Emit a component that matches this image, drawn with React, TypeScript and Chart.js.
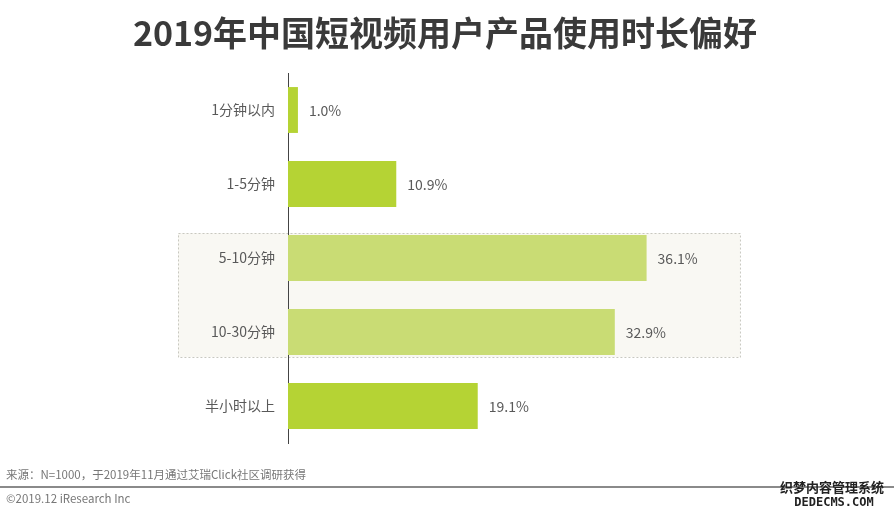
import React, { useEffect, useRef } from "react";
import { Chart, registerables } from "chart.js";

Chart.register(...registerables);

const TITLE = "2019年中国短视频用户产品使用时长偏好";
const categories = ["1分钟以内", "1-5分钟", "5-10分钟", "10-30分钟", "半小时以上"];
const values = [1.0, 10.9, 36.1, 32.9, 19.1];
const highlighted = [false, false, true, true, false];
const SOURCE = "来源：N=1000，于2019年11月通过艾瑞Click社区调研获得";
const COPYRIGHT = "©2019.12 iResearch Inc";

const FONT = '"Noto Sans CJK SC", "Noto Sans", sans-serif';

export default function App() {
  const ref = useRef<HTMLCanvasElement | null>(null);

  useEffect(() => {
    document.body.style.margin = "0";
    const canvas = ref.current;
    if (!canvas) return;

    const deco = {
      id: "deco",
      beforeDraw(chart: any) {
        const { ctx, scales } = chart;
        const y = scales.y;
        const x = scales.x;
        if (!x || !y) return;
        const top = y.getPixelForValue(2) - 25;
        const bottom = y.getPixelForValue(3) + 25;
        const left = 178;
        const right = x.getPixelForValue(45.5);
        ctx.save();
        ctx.fillStyle = "#f9f8f3";
        ctx.fillRect(left, top, right - left, bottom - top);
        ctx.setLineDash([2, 2]);
        ctx.strokeStyle = "#c8c8c0";
        ctx.lineWidth = 1;
        ctx.strokeRect(left + 0.5, top + 0.5, right - left, bottom - top);
        ctx.restore();
      },
      afterDatasetsDraw(chart: any) {
        const { ctx } = chart;
        const meta = chart.getDatasetMeta(0);
        ctx.save();
        ctx.font = `14px ${FONT}`;
        ctx.fillStyle = "#595959";
        ctx.textBaseline = "middle";
        ctx.textAlign = "left";
        meta.data.forEach((bar: any, i: number) => {
          ctx.fillText(values[i].toFixed(1) + "%", bar.x + 11, bar.y + 1);
        });
        ctx.restore();
      },
      afterDraw(chart: any) {
        const { ctx } = chart;
        ctx.save();
        ctx.font = `bold 34px ${FONT}`;
        ctx.fillStyle = "#3a3a3a";
        ctx.textAlign = "center";
        ctx.textBaseline = "middle";
        ctx.fillText(TITLE, 445, 33);

        ctx.font = `11.5px ${FONT}`;
        ctx.fillStyle = "#777777";
        ctx.textAlign = "left";
        ctx.fillText(SOURCE, 6, 475);
        ctx.fillText(COPYRIGHT, 6, 499);

        ctx.strokeStyle = "#8a8a8a";
        ctx.lineWidth = 2;
        ctx.beginPath();
        ctx.moveTo(0, 487);
        ctx.lineTo(894, 487);
        ctx.stroke();

        ctx.font = `bold 13px ${FONT}`;
        ctx.fillStyle = "#222";
        ctx.textAlign = "center";
        ctx.fillText("织梦内容管理系统", 832, 487);
        ctx.font = `bold 12px "DejaVu Sans Mono", monospace`;
        ctx.fillText("DEDECMS.COM", 834, 503);
        ctx.restore();
      },
    };

    const chart = new Chart(canvas, {
      type: "bar",
      data: {
        labels: categories,
        datasets: [
          {
            data: values,
            backgroundColor: highlighted.map((h) => (h ? "#c9dc74" : "#b5d334")),
            borderWidth: 0,
            barPercentage: 0.62,
            categoryPercentage: 1,
          },
        ],
      },
      options: {
        indexAxis: "y",
        animation: false,
        responsive: false,
        layout: { padding: { left: 0, right: 159, top: 73, bottom: 73 } },
        plugins: { legend: { display: false }, tooltip: { enabled: false }, title: { display: false } },
        scales: {
          x: { display: false, min: 0, max: 45 },
          y: {
            afterFit: (s: any) => {
              s.width = 288;
            },
            grid: { display: false, drawTicks: false },
            border: { display: true, color: "#444444", width: 1 },
            ticks: { color: "#595959", font: { size: 14, family: FONT }, padding: 13 },
          },
        },
      },
      plugins: [deco],
    });

    return () => chart.destroy();
  }, []);

  return (
    <div style={{ width: 894, height: 516, background: "#fff" }}>
      <canvas ref={ref} width={894} height={516} style={{ display: "block" }} />
    </div>
  );
}
